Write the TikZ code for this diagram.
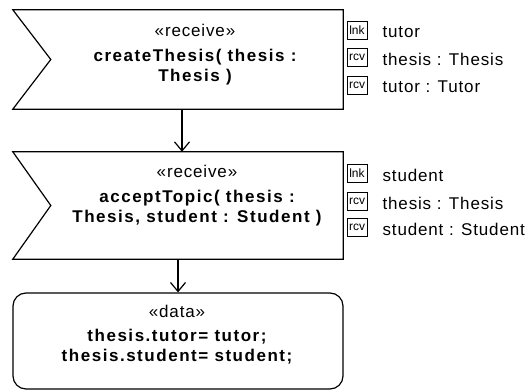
\documentclass[tikz,border=0pt]{standalone}
\usepackage{fontspec}
\setmainfont{Liberation Sans}
\newfontfamily\stfont[LetterSpace=5]{Liberation Sans}
\newfontfamily\opfont[LetterSpace=9]{Liberation Sans}
\newcommand\opline[1]{{\opfont\bfseries #1}} % bold operation line
\usetikzlibrary{
	arrows.meta,
	positioning,
	calc
}
\tikzset{
  % arrow
	cstra/.style      ={-{Straight Barb[length=9pt,width=15pt]}, line width=1.2pt}, % flow arrow
  % line
	cstline/.style    ={line width=1.2pt, line join=miter},
  % node
	cstnode/.style    ={minimum width=330pt, inner sep=0pt},
	cstrecv/.style    ={cstnode, minimum height=99pt}, %接收动作
	cstdata/.style    ={cstnode, draw=black, line width=1.2pt, rounded corners=13pt, minimum height=96pt},
	csttext/.style    ={align=center, inner sep=0pt, font=\fontsize{17}{20}\stfont},
	cstpin/.style     ={draw=black, line width=0.8pt, minimum width=20pt, minimum height=18pt, inner sep=0pt, font=\fontsize{12}{12}\selectfont},
	cstlabel/.style   ={anchor=west, inner sep=0pt, font=\fontsize{17}{20}\stfont}
}

\begin{document}
\begin{tikzpicture}[x=1pt,y=-1pt]
	\useasboundingbox (0,0) rectangle (528,390);
	% actions
	\node[cstrecv] (create) at (178,59.5) {};
	\node[cstrecv, minimum height=107pt] (accept) at (178,205.5) {};
	\node[cstdata] (data) at (178,341) {};
	\foreach \n in {create,accept}
		\draw[cstline] (\n.north west) -- (\n.north east) -- (\n.south east)
			-- (\n.south west) -- ($(\n.west)+(38,0)$) -- cycle;
	% texts
	\node[csttext] (createtxt) at (195,55)
		{«receive»\\[5pt]\opline{createThesis( thesis :}\\\opline{Thesis )}};
	\node[csttext] (accepttxt) at (197,196)
		{«receive»\\[5pt]\opline{acceptTopic( thesis :}\\\opline{Thesis, student : Student )}};
	\node[csttext] (datatxt) at (177,335)
		{«data»\\[4pt]\opline{thesis.tutor= tutor;}\\\opline{thesis.student= student;}};
	% pins
	\foreach \y/\k/\t [count=\i] in {30.5/lnk/tutor, 57/rcv/thesis : Thesis, 85/rcv/tutor : Tutor}{
		\node[cstpin] (cpin\i) at (357,\y) {\k};
		\node[cstlabel, right=15pt of cpin\i, yshift=-2pt] (clbl\i) {\t};
	}
	\foreach \y/\k/\t [count=\i] in {173/lnk/student, 201/rcv/thesis : Thesis, 227.5/rcv/student : Student}{
		\node[cstpin] (apin\i) at (357,\y) {\k};
		\node[cstlabel, right=15pt of apin\i, yshift=-2pt] (albl\i) {\t};
	}
	% flow
	\draw[cstra] ([xshift=4pt]create.south) -- ([xshift=4pt]accept.north);
	\draw[cstra] (accept.south) -- (data.north);
\end{tikzpicture}
\end{document}
